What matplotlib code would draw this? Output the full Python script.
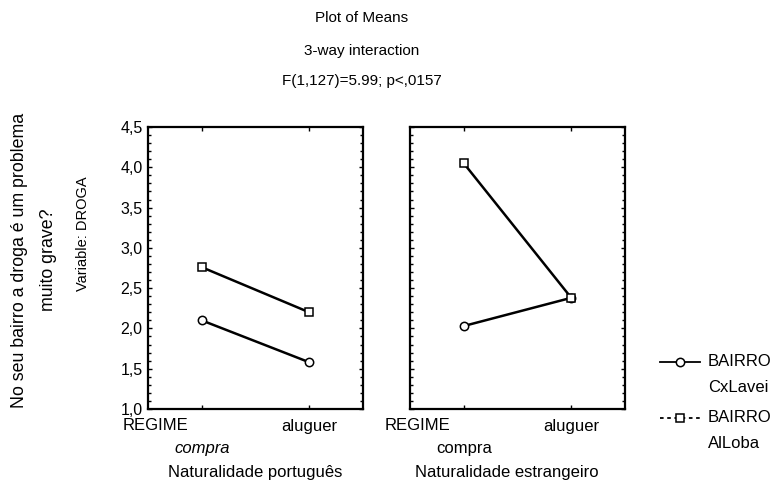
import numpy as np
import matplotlib.pyplot as plt
from matplotlib.lines import Line2D
from matplotlib.ticker import MultipleLocator, FuncFormatter

plt.rcParams['font.family'] = ['Liberation Sans', 'DejaVu Sans']

# data
regime = ["compra", "aluguer"]
panels = ["Naturalidade português", "Naturalidade estrangeiro"]
series = ["BAIRRO\nCxLavei", "BAIRRO\nAlLoba"]
cxlavei = [[2.10, 1.58], [2.03, 2.38]]   # circles
alloba = [[2.76, 2.20], [4.05, 2.38]]    # squares
yticks = [1.0, 1.5, 2.0, 2.5, 3.0, 3.5, 4.0, 4.5]

W, H = 777, 495
fig = plt.figure(figsize=(W / 100, H / 100), dpi=100)
ax1 = fig.add_axes([148 / W, 1 - 409 / H, 215 / W, 282 / H])
ax2 = fig.add_axes([410 / W, 1 - 409 / H, 215 / W, 282 / H])
axes = [ax1, ax2]

fs = 12
x = np.arange(len(regime))
for i, ax in enumerate(axes):
    ax.plot(x, cxlavei[i], '-', color='k', lw=1.8, marker='o', ms=6,
            mfc='white', mec='k', mew=1.1, zorder=3)
    ax.plot(x, alloba[i], '-', color='k', lw=1.8, marker='s', ms=6,
            mfc='white', mec='k', mew=1.1, zorder=4)
    ax.set_xlim(-0.5, 1.5)
    ax.set_ylim(1.0, 4.5)
    ax.set_xticks(x)
    ax.set_xticklabels([])
    ax.set_yticks(yticks)
    ax.yaxis.set_minor_locator(MultipleLocator(0.1))
    ax.tick_params(axis='both', which='both', direction='in', top=True,
                   right=True, left=True, bottom=True, width=1.0)
    ax.tick_params(which='major', length=3)
    ax.tick_params(which='minor', length=2)
    for s in ax.spines.values():
        s.set_linewidth(1.6)

    # category texts under the panel (x in data, y in axes fraction)
    xt = ax.get_xaxis_transform()
    ax.text(-25 / 215, -17 / 282, "REGIME", transform=ax.transAxes,
            ha='left', va='center', fontsize=fs)
    ax.text(x[1], -17 / 282, regime[1], transform=xt, ha='center',
            va='center', fontsize=fs)
    ax.text(x[0], -39 / 282, regime[0], transform=xt, ha='center',
            va='center', fontsize=fs, style='italic' if i == 0 else 'normal')

ax1.text(0.5, -63 / 282, panels[0], transform=ax1.transAxes,
         ha='center', va='center', fontsize=fs)
ax2.text(0.45, -63 / 282, panels[1], transform=ax2.transAxes,
         ha='center', va='center', fontsize=fs)

ax1.yaxis.set_major_formatter(FuncFormatter(lambda v, p: f"{v:.1f}".replace('.', ',')))
ax1.tick_params(axis='y', labelsize=11.5, pad=4)
ax2.set_yticklabels([])

ax1.set_ylabel("Variable: DROGA", fontsize=10.5)
ax1.yaxis.set_label_coords(-58 / 215, 0.62)
fig.text(34 / W, 1 - 260 / H, "No seu bairro a droga é um problema\nmuito grave?",
         rotation=90, ha='center', va='center', fontsize=12.8,
         linespacing=1.9, multialignment='center')

for yy, txt in zip([18, 51, 81], ["Plot of Means", "3-way interaction",
                                  "F(1,127)=5.99; p<,0157"]):
    fig.text(362 / W, 1 - yy / H, txt, ha='center', va='center', fontsize=11)

# legend
keys = [dict(ls='-', marker='o'), dict(ls=(0, (2, 2)), marker='s')]
for k, (lab, ky) in enumerate(zip(series, keys)):
    yk = 1 - (362 + 56 * k) / H
    fig.add_artist(Line2D([660 / W, 700 / W], [yk, yk], color='k', lw=1.3,
                          ls=ky['ls'], transform=fig.transFigure))
    fig.add_artist(Line2D([680 / W], [yk], color='k', marker=ky['marker'],
                          ms=6, mfc='white', mec='k', mew=1.1,
                          transform=fig.transFigure))
    top, bottom = lab.split("\n")
    fig.text(708 / W, yk, top, ha='left', va='center', fontsize=fs)
    fig.text(708 / W, yk - 25 / H, bottom, ha='left', va='center', fontsize=fs)

plt.savefig("out.png", dpi=100)
